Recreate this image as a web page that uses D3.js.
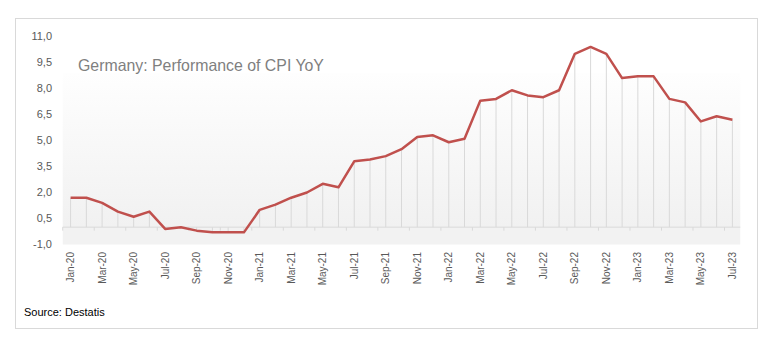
<!DOCTYPE html>
<html><head><meta charset="utf-8">
<script src="https://cdn.jsdelivr.net/npm/d3@7"></script>
<style>body{margin:0;background:#fff}svg{display:block}</style>
</head><body>
<svg id="c" width="779" height="343"></svg>
<script>
const months = ["Jan-20","Feb-20","Mar-20","Apr-20","May-20","Jun-20","Jul-20","Aug-20","Sep-20","Oct-20","Nov-20","Dec-20",
"Jan-21","Feb-21","Mar-21","Apr-21","May-21","Jun-21","Jul-21","Aug-21","Sep-21","Oct-21","Nov-21","Dec-21",
"Jan-22","Feb-22","Mar-22","Apr-22","May-22","Jun-22","Jul-22","Aug-22","Sep-22","Oct-22","Nov-22","Dec-22",
"Jan-23","Feb-23","Mar-23","Apr-23","May-23","Jun-23","Jul-23"];
const cpi = [1.7,1.7,1.4,0.9,0.6,0.9,-0.1,0.0,-0.2,-0.3,-0.3,-0.3,
1.0,1.3,1.7,2.0,2.5,2.3,3.8,3.9,4.1,4.5,5.2,5.3,
4.9,5.1,7.3,7.4,7.9,7.6,7.5,7.9,10.0,10.4,10.0,8.6,
8.7,8.7,7.4,7.2,6.1,6.4,6.2];
const yTicks = [-1.0,0.5,2.0,3.5,5.0,6.5,8.0,9.5,11.0];
const xLabels = months.filter((d,i)=>i%2===0);
const title = "Germany: Performance of CPI YoY";
const source = "Source: Destatis";

const svg = d3.select("#c");
const font = "'Liberation Sans', Arial, sans-serif";

// chart border
svg.append("rect").attr("x",15.5).attr("y",18.5).attr("width",742).attr("height",310)
  .attr("fill","#fff").attr("stroke","#d9d9d9").attr("stroke-width",1);

const x = d3.scalePoint().domain(months).range([70.6, 732.4]);
const step = x.step();
const left = x(months[0]) - step/2, right = x(months[months.length-1]) + step/2;
const y = d3.scaleLinear().domain([-1, 11]).range([244.5, 36.5]);

// background gradient
const defs = svg.append("defs");
const g = defs.append("linearGradient").attr("id","bg").attr("x1",0).attr("y1",0).attr("x2",0).attr("y2",1);
g.append("stop").attr("offset","0%").attr("stop-color","#fefefe");
g.append("stop").attr("offset","100%").attr("stop-color","#f1f1f1");
svg.append("rect").attr("x",left).attr("y",73).attr("width",right-left).attr("height",y(0)-73).attr("fill","url(#bg)");
svg.append("rect").attr("x",left).attr("y",y(0)).attr("width",right-left).attr("height",y(-1)-y(0)).attr("fill","#f2f2f2");

// title
const t = svg.append("text").attr("x",78).attr("y",71).attr("fill","#7f7f7f")
  .style("font-family",font).style("font-size","18px").text(title);
const tw = t.node().getComputedTextLength();
t.style("font-size",(18*246/tw).toFixed(2)+"px");

// drop lines
svg.append("g").selectAll("line").data(cpi).join("line")
  .attr("x1",(d,i)=>x(months[i])).attr("x2",(d,i)=>x(months[i]))
  .attr("y1",d=>y(d)).attr("y2",y(0))
  .attr("stroke","#d9d9d9").attr("stroke-width",1);

// axis line + ticks
svg.append("line").attr("x1",left).attr("x2",right).attr("y1",y(0)).attr("y2",y(0))
  .attr("stroke","#d9d9d9").attr("stroke-width",1);
const tickXs = d3.range(0, months.length+1, 2).map(i=>left + i*step);
svg.append("g").selectAll("line").data(tickXs).join("line")
  .attr("x1",d=>d).attr("x2",d=>d).attr("y1",y(0)).attr("y2",y(0)+3.5)
  .attr("stroke","#d9d9d9").attr("stroke-width",1);

// y tick labels
svg.append("g").selectAll("text").data(yTicks).join("text")
  .attr("x",52).attr("y",d=>y(d)).attr("dy","0.35em").attr("text-anchor","end")
  .attr("fill","#595959").style("font-family",font).style("font-size","11px")
  .text(d=>d3.format(".1f")(d).replace(".",",").replace("−","-"));

// x labels
svg.append("g").selectAll("text").data(xLabels).join("text")
  .attr("transform",d=>`translate(${x(d)+3.5},252) rotate(-90)`)
  .attr("text-anchor","end").attr("fill","#595959")
  .style("font-family",font).style("font-size","10px").text(d=>d);

// line
svg.append("path").datum(cpi)
  .attr("d", d3.line().x((d,i)=>x(months[i])).y(d=>y(d)))
  .attr("fill","none").attr("stroke","#c0504d").attr("stroke-width",2.5).attr("stroke-linejoin","round");

// source
svg.append("text").attr("x",24).attr("y",316).attr("fill","#000")
  .style("font-family",font).style("font-size","11px").text(source);
</script>
</body></html>
